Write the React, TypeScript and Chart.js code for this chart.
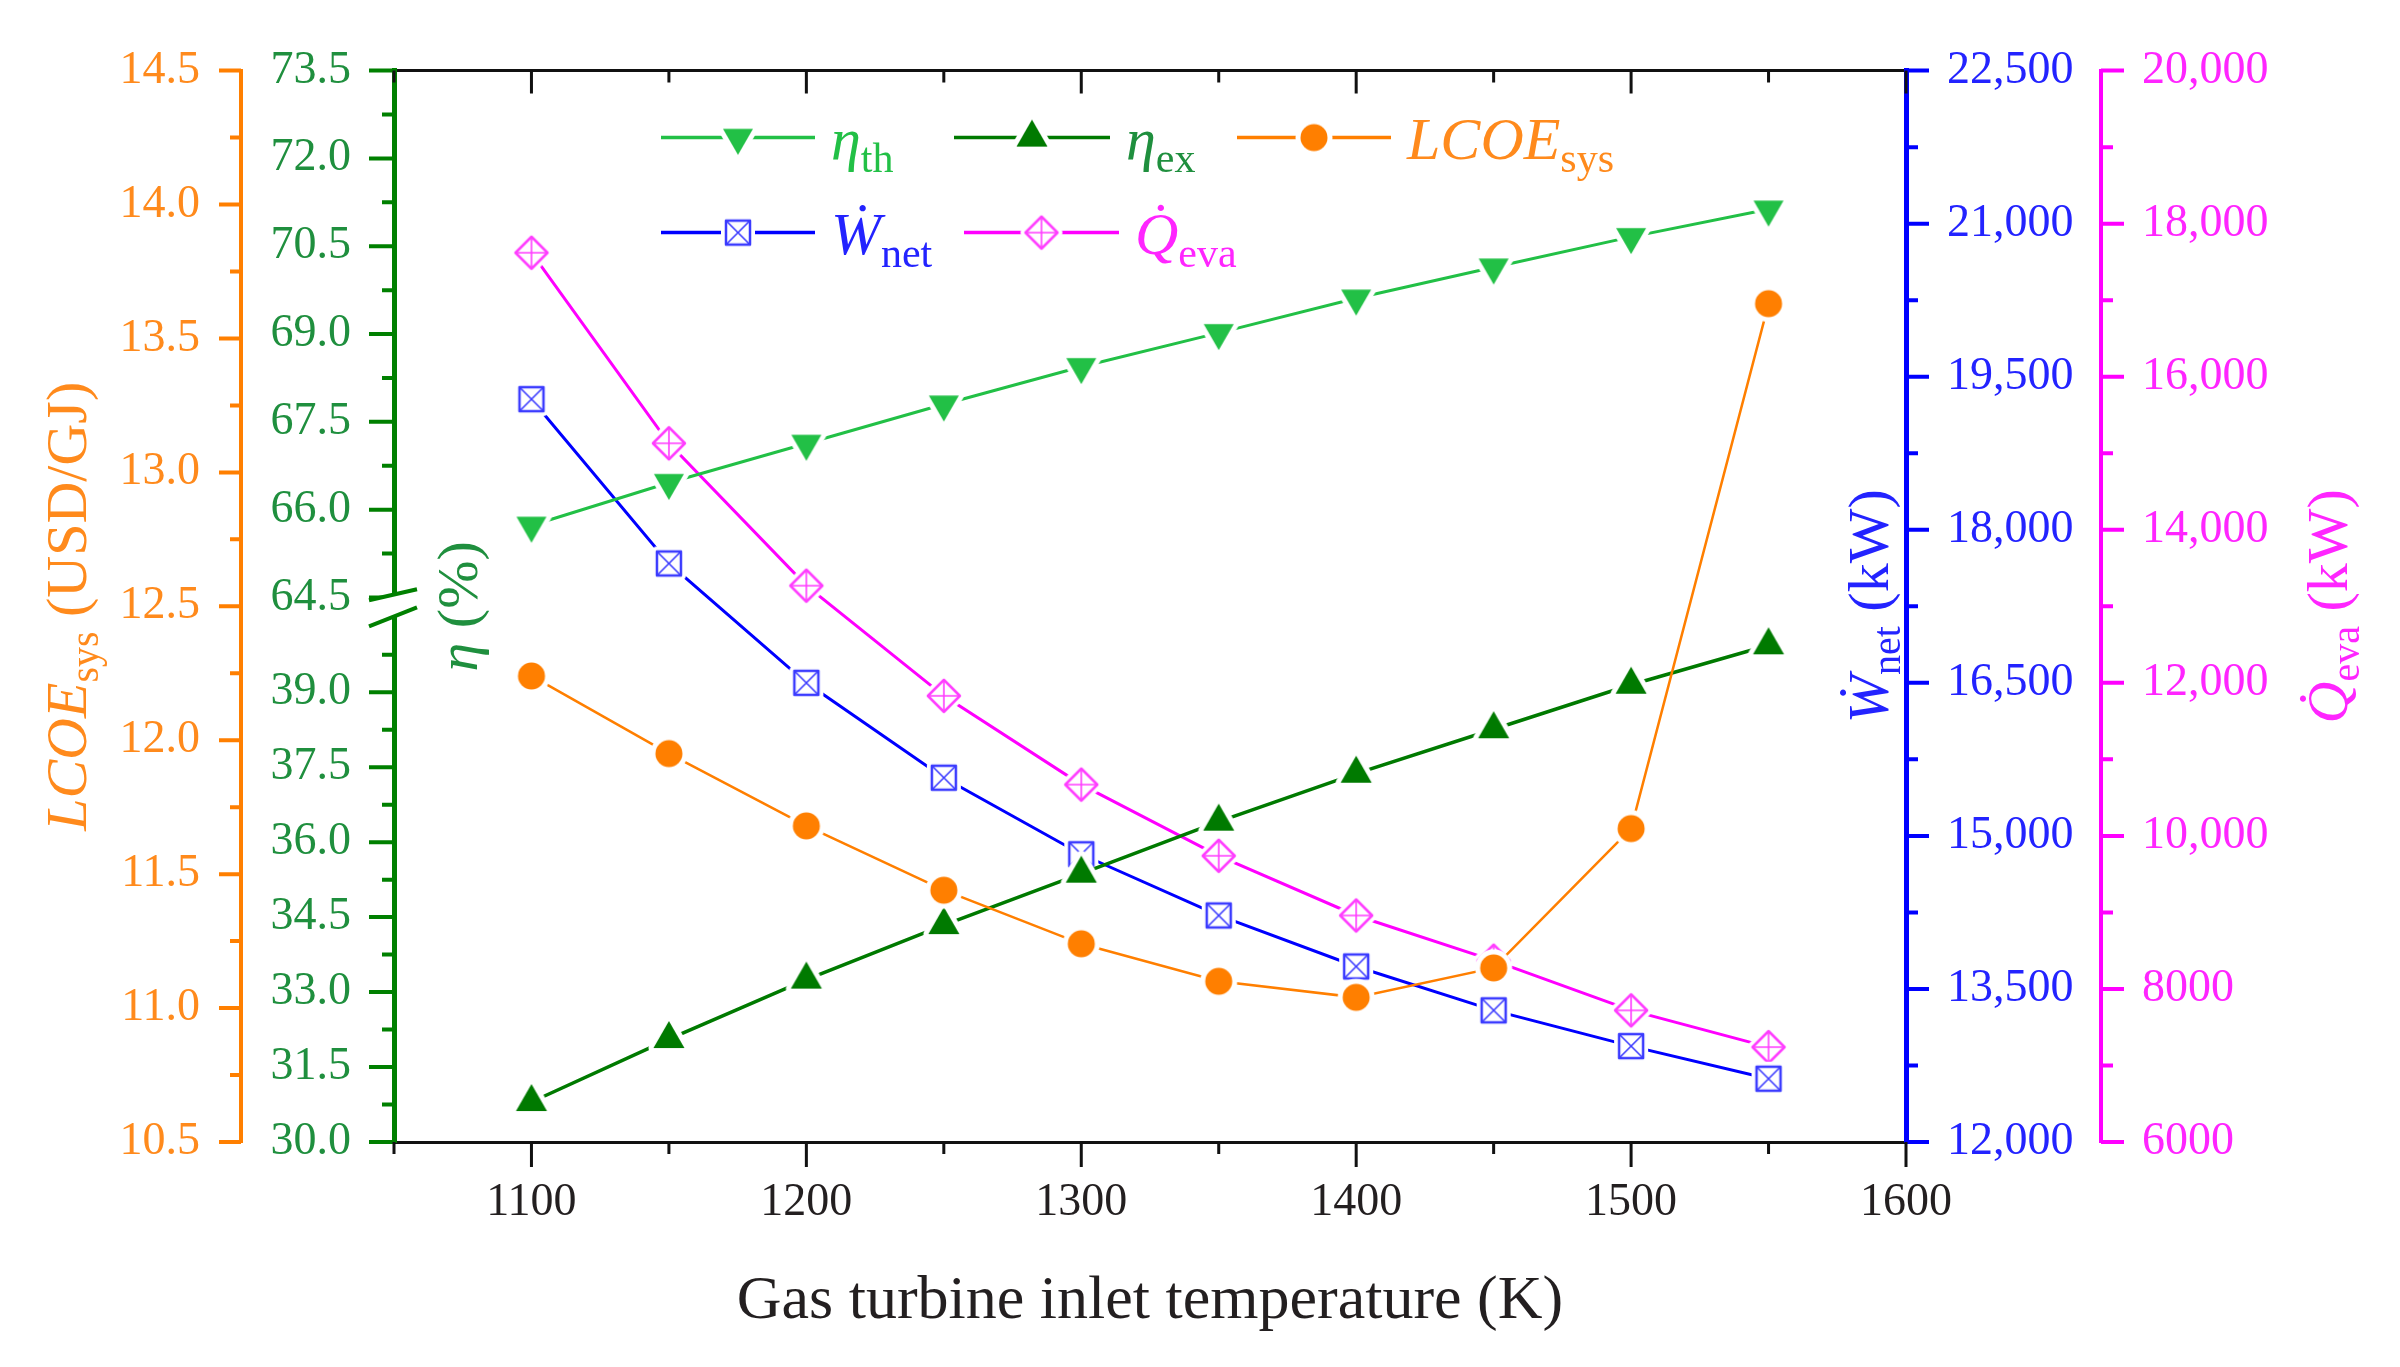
"use client"

import { useEffect, useRef } from "react"
import { Chart, registerables } from "chart.js"

Chart.register(...registerables)

const SERIF = '"Liberation Serif", "DejaVu Serif", serif'
Chart.defaults.font.family = SERIF

// Gas turbine inlet temperature (K)
const temperatures = [1100, 1150, 1200, 1250, 1300, 1350, 1400, 1450, 1500, 1550]

// Series
const etaTh = [65.73, 66.46, 67.13, 67.8, 68.44, 69.02, 69.61, 70.14, 70.66, 71.13] // %
const etaEx = [30.8, 32.06, 33.25, 34.34, 35.37, 36.41, 37.37, 38.26, 39.15, 39.94] // %
const lcoeSys = [12.24, 11.95, 11.68, 11.44, 11.24, 11.1, 11.04, 11.15, 11.67, 13.63] // USD/GJ
const wNet = [19280, 17670, 16500, 15570, 14820, 14220, 13720, 13290, 12940, 12620] // kW
const qEva = [17620, 15130, 13270, 11830, 10670, 9740, 8960, 8370, 7720, 7240] // kW

// Labelled (major) ticks of every axis
const xMajor = [1100, 1200, 1300, 1400, 1500, 1600]
const lcoeMajor = [10.5, 11.0, 11.5, 12.0, 12.5, 13.0, 13.5, 14.0, 14.5]
const etaUpperMajor = [64.5, 66.0, 67.5, 69.0, 70.5, 72.0, 73.5]
const etaLowerMajor = [30.0, 31.5, 33.0, 34.5, 36.0, 37.5, 39.0]
const wNetMajor = [12000, 13500, 15000, 16500, 18000, 19500, 21000, 22500]
const qEvaMajor = [6000, 8000, 10000, 12000, 14000, 16000, 18000, 20000]

const ORANGE = "#ff7f00"
const ORANGE_TEXT = "#ff8a1c"
const GREEN_AXIS = "#008000"
const GREEN_TEXT = "#1f8f3e"
const GREEN_TH = "#22c046"
const GREEN_EX = "#007a00"
const BLUE = "#0000ff"
const BLUE_TEXT = "#2323ff"
const PINK = "#ff00ff"
const PINK_TEXT = "#ff25ff"
const DARK = "#231f20"

// majors plus the unlabelled midpoints between them
const withMinors = (majors: number[], extra: number[] = []) =>
  [...majors, ...majors.slice(1).map((v, i) => (v + majors[i]) / 2), ...extra].sort((a, b) => a - b)

const isMajor = (majors: number[], v: number) => majors.some((m) => Math.abs(m - v) < 1e-6)

function makeMarker(kind: string, color: string): HTMLCanvasElement {
  const size = 50
  const c = document.createElement("canvas")
  c.width = size
  c.height = size
  const g = c.getContext("2d")!
  const cx = size / 2
  const cy = size / 2
  const p = new Path2D()
  let filled = true
  if (kind === "triDown") {
    const r = 17.3
    p.moveTo(cx, cy + r)
    p.lineTo(cx - r * 0.866, cy - r / 2)
    p.lineTo(cx + r * 0.866, cy - r / 2)
    p.closePath()
  } else if (kind === "triUp") {
    const r = 17.9
    p.moveTo(cx, cy - r)
    p.lineTo(cx - r * 0.866, cy + r / 2)
    p.lineTo(cx + r * 0.866, cy + r / 2)
    p.closePath()
  } else if (kind === "circle") {
    p.arc(cx, cy, 13.5, 0, Math.PI * 2)
  } else if (kind === "squareX") {
    p.rect(cx - 12, cy - 12, 24, 24)
    filled = false
  } else {
    p.moveTo(cx, cy - 16)
    p.lineTo(cx + 16, cy)
    p.lineTo(cx, cy + 16)
    p.lineTo(cx - 16, cy)
    p.closePath()
    filled = false
  }
  // white halo gives the gap between line and symbol
  g.lineJoin = "round"
  g.strokeStyle = "#ffffff"
  g.lineWidth = 10
  g.stroke(p)
  g.fillStyle = filled ? color : "#ffffff"
  g.fill(p)
  if (!filled) {
    g.strokeStyle = color
    g.lineWidth = 2.5
    g.stroke(p)
    g.lineWidth = 1.6
    g.beginPath()
    if (kind === "squareX") {
      g.moveTo(cx - 11, cy - 11)
      g.lineTo(cx + 11, cy + 11)
      g.moveTo(cx + 11, cy - 11)
      g.lineTo(cx - 11, cy + 11)
    } else {
      g.moveTo(cx, cy - 15)
      g.lineTo(cx, cy + 15)
      g.moveTo(cx - 15, cy)
      g.lineTo(cx + 15, cy)
    }
    g.stroke()
  }
  return c
}

type Part = { text: string; font: string; dy: number }

function drawRich(
  ctx: CanvasRenderingContext2D,
  parts: Part[],
  x: number,
  y: number,
  color: string,
  rotation = 0,
  center = true
) {
  ctx.save()
  ctx.translate(x, y)
  ctx.rotate(rotation)
  ctx.fillStyle = color
  ctx.textBaseline = "alphabetic"
  ctx.textAlign = "left"
  const widths = parts.map((p) => {
    ctx.font = p.font
    return ctx.measureText(p.text).width
  })
  const total = widths.reduce((a, b) => a + b, 0)
  let cx = center ? -total / 2 : 0
  parts.forEach((p, i) => {
    ctx.font = p.font
    ctx.fillText(p.text, cx, p.dy)
    cx += widths[i]
  })
  ctx.restore()
}

const font = (size: number, italic = false) => `${italic ? "italic " : ""}${size}px ${SERIF}`

// tick marks (major long, minor short), the axis break and the top frame ticks
const tickMarks = {
  id: "tickMarks",
  afterDraw(chart: any) {
    const ctx: CanvasRenderingContext2D = chart.ctx
    const specs = [
      { id: "yL", side: "left", color: ORANGE, width: 4, major: 22, minor: 11 },
      { id: "yTh", side: "left", color: GREEN_AXIS, width: 4, major: 25, minor: 12 },
      { id: "yEx", side: "left", color: GREEN_AXIS, width: 4, major: 25, minor: 12 },
      { id: "yW", side: "right", color: BLUE, width: 4, major: 23, minor: 12 },
      { id: "yQ", side: "right", color: PINK, width: 4, major: 23, minor: 12 },
      { id: "x", side: "bottom", color: "#111111", width: 3, major: 25, minor: 12 },
      { id: "xTop", side: "top", color: "#111111", width: 3, major: 23, minor: 12 },
    ]
    ctx.save()
    for (const s of specs) {
      const scale = chart.scales[s.id]
      if (!scale) continue
      ctx.strokeStyle = s.color
      ctx.lineWidth = s.width
      ctx.beginPath()
      for (const t of scale.ticks) {
        const p = scale.getPixelForValue(t.value)
        const len = t.label ? s.major : s.minor
        if (s.side === "left") {
          ctx.moveTo(scale.right, p)
          ctx.lineTo(scale.right - len, p)
        } else if (s.side === "right") {
          ctx.moveTo(scale.left, p)
          ctx.lineTo(scale.left + len, p)
        } else if (s.side === "bottom") {
          ctx.moveTo(p, scale.top)
          ctx.lineTo(p, scale.top + len)
        } else {
          ctx.moveTo(p, scale.bottom)
          ctx.lineTo(p, scale.bottom + len)
        }
      }
      ctx.stroke()
    }

    // break of the efficiency axis
    const ex = chart.scales.yEx
    const x0 = ex.right
    const yb = ex.top
    ctx.fillStyle = "#ffffff"
    ctx.beginPath()
    ctx.moveTo(x0 - 25, yb - 13)
    ctx.lineTo(x0 + 23, yb - 24)
    ctx.lineTo(x0 + 23, yb - 6)
    ctx.lineTo(x0 - 25, yb + 13)
    ctx.closePath()
    ctx.fill()
    ctx.strokeStyle = GREEN_AXIS
    ctx.lineWidth = 4
    ctx.beginPath()
    ctx.moveTo(x0 - 25, yb - 13)
    ctx.lineTo(x0 + 23, yb - 24)
    ctx.moveTo(x0 - 25, yb + 13)
    ctx.lineTo(x0 + 23, yb - 6)
    ctx.stroke()
    ctx.restore()
  },
}

export default function App() {
  const canvasRef = useRef<HTMLCanvasElement>(null)
  const chartRef = useRef<Chart | null>(null)

  useEffect(() => {
    if (!canvasRef.current) return
    if (chartRef.current) chartRef.current.destroy()

    const mTh = makeMarker("triDown", GREEN_TH)
    const mEx = makeMarker("triUp", GREEN_EX)
    const mLcoe = makeMarker("circle", ORANGE)
    const mW = makeMarker("squareX", "#3b3bff")
    const mQ = makeMarker("diamondPlus", "#ff3dff")

    const points = (values: number[]) => temperatures.map((t, i) => ({ x: t, y: values[i] }))

    // axis titles and the in-plot legend (with sub-scripts and dots)
    const annotations = {
      id: "annotations",
      afterDraw(chart: any) {
        const ctx: CanvasRenderingContext2D = chart.ctx
        const area = chart.chartArea
        const midY = (area.top + area.bottom) / 2
        const up = -Math.PI / 2
        const T = 58
        const S = 40
        drawRich(
          ctx,
          [
            { text: "LCOE", font: font(T, true), dy: 19 },
            { text: "sys", font: font(S), dy: 31 },
            { text: " (USD/GJ)", font: font(T), dy: 19 },
          ],
          67,
          midY,
          ORANGE_TEXT,
          up
        )
        drawRich(
          ctx,
          [
            { text: "η", font: font(T, true), dy: 19 },
            { text: " (%)", font: font(T), dy: 19 },
          ],
          458,
          midY,
          GREEN_TEXT,
          up
        )
        drawRich(
          ctx,
          [
            { text: "Ẇ", font: font(T, true), dy: 19 },
            { text: "net", font: font(S), dy: 31 },
            { text: " (kW)", font: font(T), dy: 19 },
          ],
          1869,
          midY,
          BLUE_TEXT,
          up
        )
        drawRich(
          ctx,
          [
            { text: "Q\u0307", font: font(T, true), dy: 19 },
            { text: "eva", font: font(S), dy: 31 },
            { text: " (kW)", font: font(T), dy: 19 },
          ],
          2328,
          midY,
          PINK_TEXT,
          up
        )

        const L = 60
        const LS = 42
        const rows = [area.top + 67, area.top + 162]
        const items = [
          { row: 0, x0: 267, x1: 421, text: "η", sub: "th", line: GREEN_TH, text_c: GREEN_TH, marker: mTh },
          { row: 0, x0: 560, x1: 716, text: "η", sub: "ex", line: GREEN_EX, text_c: GREEN_TEXT, marker: mEx },
          { row: 0, x0: 843, x1: 997, text: "LCOE", sub: "sys", line: ORANGE, text_c: ORANGE_TEXT, marker: mLcoe },
          { row: 1, x0: 267, x1: 421, text: "Ẇ", sub: "net", line: BLUE, text_c: BLUE_TEXT, marker: mW },
          { row: 1, x0: 570, x1: 725, text: "Q\u0307", sub: "eva", line: PINK, text_c: PINK_TEXT, marker: mQ },
        ]
        ctx.save()
        for (const it of items) {
          const y = rows[it.row]
          const a = area.left + it.x0
          const b = area.left + it.x1
          ctx.strokeStyle = it.line
          ctx.lineWidth = 3.5
          ctx.beginPath()
          ctx.moveTo(a, y)
          ctx.lineTo(b, y)
          ctx.stroke()
          const m = it.marker
          ctx.drawImage(m, (a + b) / 2 - m.width / 2, y - m.height / 2)
          drawRich(
            ctx,
            [
              { text: it.text, font: font(L, true), dy: 21 },
              { text: it.sub, font: font(LS), dy: 34 },
            ],
            b + 16,
            y,
            it.text_c,
            0,
            false
          )
        }
        ctx.restore()
      },
    }

    const baseAxis = {
      type: "linear" as const,
      bounds: "data" as const,
      grid: { display: true, drawOnChartArea: false, drawTicks: false },
    }

    chartRef.current = new Chart(canvasRef.current, {
      type: "line",
      data: {
        datasets: [
          {
            label: "LCOEsys",
            data: points(lcoeSys),
            yAxisID: "yL",
            borderColor: ORANGE,
            borderWidth: 2.5,
            pointStyle: mLcoe,
            pointRadius: 14,
          },
          {
            label: "ηex",
            data: points(etaEx),
            yAxisID: "yEx",
            borderColor: GREEN_EX,
            borderWidth: 3.5,
            pointStyle: mEx,
            pointRadius: 14,
          },
          {
            label: "ηth",
            data: points(etaTh),
            yAxisID: "yTh",
            borderColor: GREEN_TH,
            borderWidth: 3,
            pointStyle: mTh,
            pointRadius: 14,
          },
          {
            label: "Wnet",
            data: points(wNet),
            yAxisID: "yW",
            borderColor: BLUE,
            borderWidth: 3,
            pointStyle: mW,
            pointRadius: 14,
          },
          {
            label: "Qeva",
            data: points(qEva),
            yAxisID: "yQ",
            borderColor: PINK,
            borderWidth: 3,
            pointStyle: mQ,
            pointRadius: 14,
          },
        ],
      },
      options: {
        responsive: false,
        devicePixelRatio: 1,
        animation: false,
        events: [],
        layout: { padding: { top: 68, left: 0, right: 0, bottom: 0 } },
        elements: { line: { tension: 0 } },
        plugins: { legend: { display: false }, tooltip: { enabled: false } },
        scales: {
          x: {
            ...baseAxis,
            position: "bottom",
            min: 1050,
            max: 1600,
            afterBuildTicks: (s: any) => {
              s.ticks = withMinors(xMajor, [1050]).map((value) => ({ value }))
            },
            afterFit: (s: any) => {
              s.height = 225
            },
            border: { display: true, color: "#111111", width: 3 },
            ticks: {
              autoSkip: false,
              maxRotation: 0,
              padding: 33,
              color: DARK,
              font: { size: 46 },
              callback: (v: any) => (isMajor(xMajor, v) ? String(v) : ""),
            },
            title: {
              display: true,
              text: "Gas turbine inlet temperature (K)",
              color: DARK,
              font: { size: 62 },
              padding: { top: 0, bottom: 28 },
            },
          },
          xTop: {
            ...baseAxis,
            position: "top",
            min: 1050,
            max: 1600,
            afterBuildTicks: (s: any) => {
              s.ticks = withMinors(xMajor, [1050]).map((value) => ({ value }))
            },
            afterFit: (s: any) => {
              s.height = 0
            },
            border: { display: true, color: "#111111", width: 3 },
            ticks: { display: false, callback: (v: any) => (isMajor(xMajor, v) ? String(v) : "") },
          },
          yL: {
            ...baseAxis,
            position: "left",
            weight: 3,
            min: 10.5,
            max: 14.5,
            afterBuildTicks: (s: any) => {
              s.ticks = withMinors(lcoeMajor).map((value) => ({ value }))
            },
            afterFit: (s: any) => {
              s.width = 241
            },
            border: { display: true, color: ORANGE, width: 4 },
            ticks: {
              autoSkip: false,
              padding: 41,
              color: ORANGE_TEXT,
              font: { size: 46 },
              callback: (v: any) => (isMajor(lcoeMajor, v) ? Number(v).toFixed(1) : ""),
            },
          },
          yTh: {
            ...baseAxis,
            position: "left",
            weight: 2,
            stack: "eta",
            stackWeight: 544,
            min: 64.23,
            max: 73.5,
            afterBuildTicks: (s: any) => {
              s.ticks = withMinors(etaUpperMajor).map((value) => ({ value }))
            },
            afterFit: (s: any) => {
              s.width = 153
            },
            border: { display: true, color: GREEN_AXIS, width: 5 },
            ticks: {
              autoSkip: false,
              padding: 43,
              color: GREEN_TEXT,
              font: { size: 46 },
              callback: (v: any) => (isMajor(etaUpperMajor, v) ? Number(v).toFixed(1) : ""),
            },
          },
          yEx: {
            ...baseAxis,
            position: "left",
            weight: 1,
            stack: "eta",
            stackWeight: 530,
            min: 30,
            max: 40.58,
            afterBuildTicks: (s: any) => {
              s.ticks = withMinors(etaLowerMajor, [39.75]).map((value) => ({ value }))
            },
            afterFit: (s: any) => {
              s.width = 153
            },
            border: { display: true, color: GREEN_AXIS, width: 5 },
            ticks: {
              autoSkip: false,
              padding: 43,
              color: GREEN_TEXT,
              font: { size: 46 },
              callback: (v: any) => (isMajor(etaLowerMajor, v) ? Number(v).toFixed(1) : ""),
            },
          },
          yW: {
            ...baseAxis,
            position: "right",
            weight: 1,
            min: 12000,
            max: 22500,
            afterBuildTicks: (s: any) => {
              s.ticks = withMinors(wNetMajor).map((value) => ({ value }))
            },
            afterFit: (s: any) => {
              s.width = 195
            },
            border: { display: true, color: BLUE, width: 5 },
            ticks: {
              autoSkip: false,
              padding: 41,
              color: BLUE_TEXT,
              font: { size: 46 },
              callback: (v: any) => (isMajor(wNetMajor, v) ? Number(v).toLocaleString("en-US") : ""),
            },
          },
          yQ: {
            ...baseAxis,
            position: "right",
            weight: 2,
            min: 6000,
            max: 20000,
            afterBuildTicks: (s: any) => {
              s.ticks = withMinors(qEvaMajor).map((value) => ({ value }))
            },
            afterFit: (s: any) => {
              s.width = 299
            },
            border: { display: true, color: PINK, width: 4 },
            ticks: {
              autoSkip: false,
              padding: 41,
              color: PINK_TEXT,
              font: { size: 46 },
              callback: (v: any) =>
                isMajor(qEvaMajor, v) ? (v >= 10000 ? Number(v).toLocaleString("en-US") : String(v)) : "",
            },
          },
        },
      },
      plugins: [tickMarks, annotations],
    } as any)

    return () => {
      if (chartRef.current) {
        chartRef.current.destroy()
        chartRef.current = null
      }
    }
  }, [])

  return (
    <div style={{ position: "absolute", left: 0, top: 0, width: 2400, height: 1367, background: "#ffffff" }}>
      <canvas ref={canvasRef} width={2400} height={1367} style={{ display: "block", width: 2400, height: 1367 }} />
    </div>
  )
}
